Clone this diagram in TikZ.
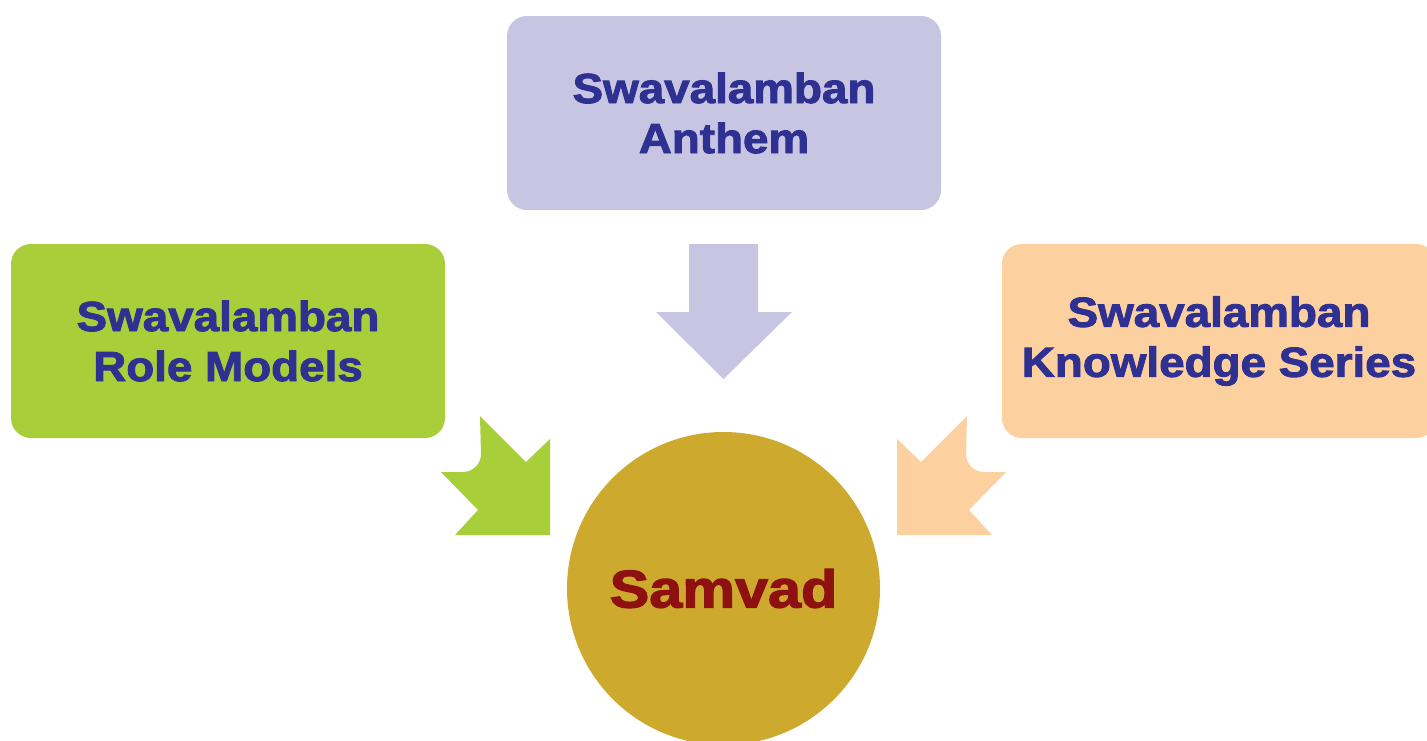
\documentclass[tikz,border=0pt]{standalone}
\usepackage{fontspec}
\newfontfamily\heavy{Liberation Sans}[BoldFeatures={FakeBold=2.2, FakeStretch=1.09}]
\newfontfamily\heavywide{Liberation Sans}[BoldFeatures={FakeBold=2.4, FakeStretch=1.12}]
\definecolor{lavender}{HTML}{C8C5E2}
\definecolor{leaf}{HTML}{A8CE3A}
\definecolor{peach}{HTML}{FDD09F}
\definecolor{mustard}{HTML}{CDAA2E}
\definecolor{inkblue}{HTML}{2E3192}
\definecolor{maroon}{HTML}{8E1010}
\tikzset{
  card/.style={rounded corners=20pt, minimum width=434pt, minimum height=194pt,
    inner sep=0pt, align=center, text=inkblue,
    font=\heavy\bfseries\fontsize{42}{50}\selectfont},
  hub/.style={circle, minimum size=313pt, inner sep=0pt, fill=mustard, text=maroon,
    font=\heavywide\bfseries\fontsize{53}{60}\selectfont},
}
\begin{document}
\begin{tikzpicture}[x=1pt, y=-1pt]
  \clip (0,0) rectangle (1427,740);
  \fill[white] (0,0) rectangle (1427,740);

  % source cards
  \node[card, fill=lavender] (anthem) at (724,113) {Swavalamban\\Anthem};
  \node[card, fill=leaf] (models) at (228,341) {Swavalamban\\Role Models};
  \node[card, fill=peach] (series) at (1219,341) {Swavalamban\\Knowledge Series};

  % central hub
  \node[hub] (samvad) at (723.5,588.5) {Samvad};

  % block arrows pointing into the hub
  \fill[lavender] (689,244) -- (758,244) -- (758,312) -- (792,312)
    -- (723.5,379) -- (656,312) -- (689,312) -- cycle;
  \fill[leaf] (480,416) -- (526,462) -- (550,439) -- (550,535) -- (455,535)
    -- (478,510) -- (441,472) -- (463,472) arc[start angle=90, end angle=0, radius=18]
    -- cycle;
  \fill[peach] (967,416) -- (921,462) -- (897,439) -- (897,535) -- (992,535)
    -- (969,510) -- (1006,472) -- (984,472) arc[start angle=90, end angle=180, radius=18]
    -- cycle;
\end{tikzpicture}
\end{document}
